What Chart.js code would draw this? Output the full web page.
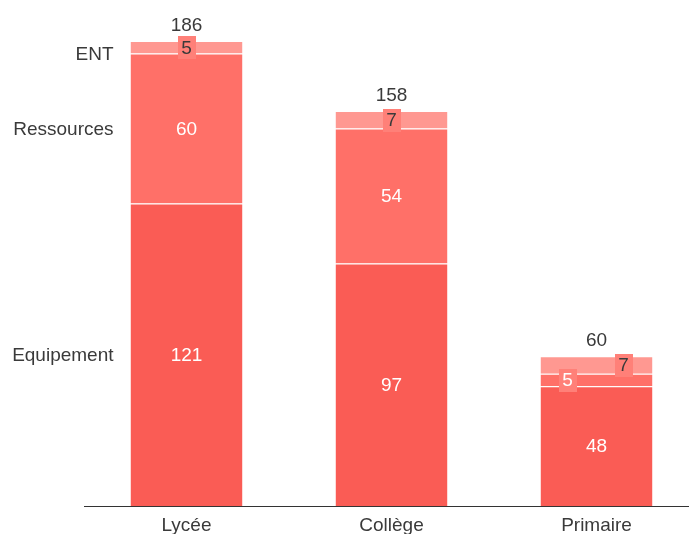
<!DOCTYPE html>
<html>
<head>
<meta charset="utf-8">
<script src="https://cdn.jsdelivr.net/npm/chart.js@4/dist/chart.umd.min.js"></script>
<style>
  html, body { margin: 0; padding: 0; background: #fff; overflow: hidden; }
  #wrap { position: relative; width: 699px; height: 534px; }
</style>
</head>
<body>
<div id="wrap"><canvas id="chart"></canvas></div>
<script>
// Budget split per school level
const categories = ['Lycée', 'Collège', 'Primaire'];
const equipement = [121, 97, 48];
const ressources = [60, 54, 5];
const ent = [5, 7, 7];
const seriesNames = ['Equipement', 'Ressources', 'ENT'];

const colors = ['#fa5c55', '#ff7068', '#ff9891'];
const labelBoxColor = '#ff8078';
const textDark = '#3a3a3a';
const FONT = '"Liberation Sans", Arial, sans-serif';
const FONT_SIZE = 19;

// Horizontal nudges (category-dataset) for labels of thin segments that would overlap
const thinLabelShift = { '2-1': -29, '2-2': 27 };

const valueLabels = {
  id: 'valueLabels',
  afterDatasetsDraw(chart) {
    const ctx = chart.ctx;
    ctx.save();
    ctx.font = FONT_SIZE + 'px ' + FONT;
    ctx.textBaseline = 'middle';
    ctx.textAlign = 'center';
    const n = chart.data.datasets.length;
    chart.data.datasets.forEach((ds, i) => {
      const meta = chart.getDatasetMeta(i);
      meta.data.forEach((bar, j) => {
        const v = ds.data[j];
        const h = Math.abs(bar.base - bar.y);
        let cx = bar.x;
        const cy = (bar.y + bar.base) / 2;
        const txt = String(v);
        const fg = i === 2 ? textDark : '#ffffff';
        if (h < 30) {
          cx += thinLabelShift[j + '-' + i] || 0;
          const w = ctx.measureText(txt).width + 7;
          ctx.fillStyle = labelBoxColor;
          ctx.fillRect(Math.round(cx - w / 2), Math.round(cy - 11), Math.round(w), 23);
        }
        ctx.fillStyle = fg;
        ctx.fillText(txt, cx, cy + 1);
      });
    });
    // totals above each stack
    const topMeta = chart.getDatasetMeta(n - 1);
    topMeta.data.forEach((bar, j) => {
      const total = chart.data.datasets.reduce((s, d) => s + d.data[j], 0);
      ctx.fillStyle = textDark;
      ctx.fillText(String(total), bar.x, bar.y - 15);
    });
    // series names beside the first stack
    ctx.textAlign = 'right';
    chart.data.datasets.forEach((ds, i) => {
      const bar = chart.getDatasetMeta(i).data[0];
      const left = bar.x - bar.width / 2;
      let cy = (bar.y + bar.base) / 2;
      if (Math.abs(bar.base - bar.y) < 30) cy += 6;
      ctx.fillStyle = textDark;
      ctx.fillText(ds.label, left - 17, cy + 1);
    });
    ctx.restore();
  }
};

const series = [equipement, ressources, ent];
new Chart(document.getElementById('chart'), {
  type: 'bar',
  data: {
    labels: categories,
    datasets: series.map((d, i) => ({
      label: seriesNames[i],
      data: d,
      backgroundColor: colors[i],
      borderColor: '#ffffff',
      borderWidth: { top: 1, left: 0, right: 0, bottom: 0 },
      borderSkipped: false,
      barPercentage: 0.546,
      categoryPercentage: 1
    }))
  },
  options: {
    responsive: true,
    maintainAspectRatio: false,
    animation: false,
    layout: { padding: { left: 84, top: 6, right: 0, bottom: -11 } },
    plugins: { legend: { display: false }, tooltip: { enabled: false } },
    scales: {
      x: {
        stacked: true,
        grid: { display: false, drawTicks: false },
        border: { display: true, color: '#333333', width: 1 },
        ticks: { color: textDark, font: { family: FONT, size: FONT_SIZE }, padding: 8 }
      },
      y: {
        stacked: true,
        display: false,
        min: 0,
        max: 200
      }
    }
  },
  plugins: [valueLabels]
});
</script>
</body>
</html>
